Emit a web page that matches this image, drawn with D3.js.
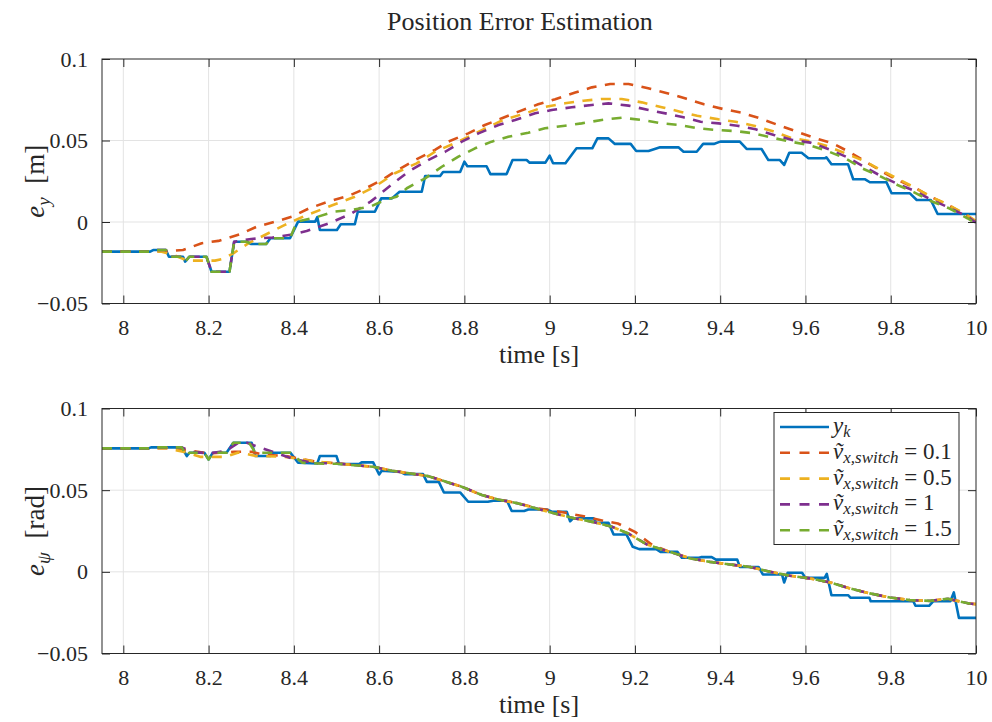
<!DOCTYPE html>
<html>
<head>
<meta charset="utf-8">
<script src="https://cdn.jsdelivr.net/npm/d3@7/dist/d3.min.js"></script>
<style>
  body { margin: 0; background: #fff; }
  svg text { font-family: "Liberation Serif", "DejaVu Serif", serif; fill: #262626; }
</style>
</head>
<body>
<div id="viz"></div>
<script>
// Position error estimation - two stacked MATLAB-style panels

const width = 992;
const height = 722;
const serif = '"Liberation Serif", "DejaVu Serif", serif';

const xTicks = [8, 8.2, 8.4, 8.6, 8.8, 9, 9.2, 9.4, 9.6, 9.8, 10];
const yTicks = [-0.05, 0, 0.05, 0.1];
const seriesNames = ["y_k", "0.1", "0.5", "1", "1.5"];
const seriesColors = ["#0072BD", "#D95319", "#EDB120", "#7E2F8E", "#77AC30"];

// top panel: e_y [m]
const eyMeas = [[7.95,-0.0182],[8.063,-0.0182],[8.07,-0.0172],[8.10,-0.0172],[8.107,-0.0213],[8.14,-0.0213],[8.145,-0.0243],[8.155,-0.0213],[8.195,-0.0213],[8.207,-0.0305],[8.249,-0.0305],[8.26,-0.0121],[8.289,-0.0121],[8.30,-0.0135],[8.335,-0.0135],[8.345,-0.0100],[8.391,-0.0100],[8.41,0.0002],[8.45,0.0002],[8.455,0.003],[8.461,-0.0049],[8.501,-0.0049],[8.51,-0.0014],[8.543,-0.0014],[8.55,0.0063],[8.59,0.0063],[8.605,0.0145],[8.63,0.0145],[8.648,0.0186],[8.70,0.0186],[8.708,0.0282],[8.743,0.0282],[8.75,0.0307],[8.79,0.0307],[8.80,0.037],[8.807,0.0342],[8.852,0.0342],[8.861,0.0294],[8.899,0.0294],[8.913,0.038],[8.946,0.038],[8.953,0.0364],[8.99,0.0364],[9.0,0.0407],[9.008,0.036],[9.037,0.036],[9.063,0.0452],[9.10,0.0452],[9.112,0.0513],[9.138,0.0513],[9.153,0.0479],[9.19,0.0479],[9.203,0.0436],[9.232,0.0436],[9.259,0.0458],[9.302,0.0458],[9.314,0.0431],[9.345,0.0431],[9.36,0.0479],[9.385,0.0479],[9.40,0.0493],[9.446,0.0493],[9.462,0.0448],[9.497,0.0448],[9.513,0.038],[9.54,0.038],[9.55,0.035],[9.562,0.0425],[9.591,0.0425],[9.607,0.0391],[9.645,0.0391],[9.649,0.0397],[9.661,0.0354],[9.70,0.0354],[9.712,0.0262],[9.74,0.0262],[9.751,0.0244],[9.79,0.0244],[9.802,0.0176],[9.845,0.0176],[9.861,0.0135],[9.894,0.0135],[9.91,0.0049],[10,0.0049]];
const eySw01 = [[7.95,-0.0182],[8.08,-0.0182],[8.11,-0.0178],[8.14,-0.0172],[8.184,-0.013],[8.223,-0.0116],[8.274,-0.0075],[8.313,-0.0029],[8.356,0.0002],[8.396,0.0033],[8.436,0.0084],[8.481,0.0125],[8.528,0.016],[8.569,0.0207],[8.607,0.0258],[8.637,0.0309],[8.684,0.038],[8.731,0.0442],[8.762,0.0493],[8.809,0.0544],[8.848,0.0595],[8.888,0.0636],[8.927,0.0677],[8.973,0.0722],[9.013,0.0753],[9.06,0.0794],[9.099,0.0826],[9.142,0.0847],[9.185,0.0847],[9.231,0.082],[9.278,0.0789],[9.321,0.0756],[9.362,0.0722],[9.407,0.0693],[9.45,0.0671],[9.493,0.0636],[9.536,0.0595],[9.58,0.0554],[9.62,0.0517],[9.663,0.0483],[9.702,0.0431],[9.741,0.037],[9.78,0.0309],[9.816,0.0258],[9.859,0.0207],[9.898,0.0149],[9.939,0.0098],[9.98,0.0037],[10,0.0]];
const eySw05 = [[7.95,-0.0182],[8.09,-0.0182],[8.12,-0.0205],[8.15,-0.0237],[8.215,-0.0237],[8.235,-0.0225],[8.258,-0.0192],[8.293,-0.0131],[8.34,-0.0069],[8.379,-0.0018],[8.422,0.0033],[8.481,0.0094],[8.543,0.0155],[8.59,0.0217],[8.637,0.0299],[8.688,0.036],[8.731,0.0431],[8.786,0.0493],[8.841,0.0564],[8.891,0.0626],[8.946,0.0669],[8.985,0.0704],[9.036,0.0728],[9.079,0.0744],[9.122,0.0755],[9.169,0.0755],[9.216,0.0734],[9.263,0.0704],[9.306,0.0677],[9.346,0.0652],[9.396,0.063],[9.436,0.0615],[9.479,0.0591],[9.522,0.0558],[9.565,0.0517],[9.608,0.0497],[9.651,0.0466],[9.694,0.0421],[9.736,0.0376],[9.777,0.0319],[9.814,0.0268],[9.855,0.0213],[9.894,0.0155],[9.933,0.0109],[9.976,0.0047],[10,0.0005]];
const eySw1 = [[7.95,-0.0182],[8.063,-0.0182],[8.07,-0.0172],[8.10,-0.0172],[8.107,-0.0213],[8.195,-0.0213],[8.207,-0.0305],[8.249,-0.0305],[8.26,-0.0121],[8.30,-0.0104],[8.35,-0.0095],[8.40,-0.0075],[8.43,-0.0055],[8.48,-0.001],[8.53,0.0045],[8.58,0.0125],[8.633,0.0237],[8.669,0.0309],[8.715,0.038],[8.755,0.0431],[8.794,0.0493],[8.833,0.0544],[8.88,0.0595],[8.919,0.0626],[8.966,0.0667],[9.005,0.0687],[9.052,0.0704],[9.099,0.0718],[9.138,0.0728],[9.185,0.0714],[9.232,0.0687],[9.278,0.0663],[9.314,0.0642],[9.354,0.0615],[9.397,0.0605],[9.44,0.0591],[9.483,0.0569],[9.526,0.0534],[9.569,0.0503],[9.612,0.0487],[9.655,0.0446],[9.698,0.0397],[9.737,0.034],[9.777,0.0282],[9.816,0.0233],[9.855,0.0192],[9.896,0.0135],[9.937,0.0088],[9.98,0.0033],[10,-0.0005]];
const eySw15 = [[7.95,-0.0182],[8.063,-0.0182],[8.07,-0.0172],[8.10,-0.0172],[8.107,-0.0213],[8.14,-0.0213],[8.145,-0.0243],[8.155,-0.0213],[8.195,-0.0213],[8.207,-0.0305],[8.249,-0.0305],[8.26,-0.0121],[8.289,-0.0121],[8.30,-0.0135],[8.335,-0.0135],[8.345,-0.010],[8.391,-0.010],[8.407,0.0002],[8.457,0.0033],[8.493,0.0063],[8.536,0.0074],[8.579,0.0094],[8.614,0.0135],[8.641,0.0155],[8.665,0.0207],[8.708,0.0268],[8.747,0.0339],[8.786,0.0401],[8.825,0.0452],[8.864,0.0493],[8.903,0.0523],[8.95,0.0548],[8.989,0.0575],[9.036,0.0591],[9.075,0.0605],[9.122,0.0626],[9.169,0.064],[9.216,0.0626],[9.263,0.0605],[9.306,0.0595],[9.346,0.0575],[9.393,0.0564],[9.436,0.0558],[9.479,0.0544],[9.522,0.0517],[9.565,0.0493],[9.608,0.0472],[9.651,0.0436],[9.694,0.039],[9.733,0.0329],[9.777,0.0278],[9.816,0.0227],[9.855,0.0182],[9.894,0.0129],[9.937,0.0084],[9.98,0.0023],[10,-0.001]];

// bottom panel: e_psi [rad]
const epsiMeas = [[7.95,0.0756],[8.059,0.0756],[8.065,0.0762],[8.137,0.0762],[8.149,0.0709],[8.155,0.0729],[8.19,0.0729],[8.2,0.0688],[8.21,0.0729],[8.242,0.0729],[8.258,0.079],[8.301,0.079],[8.31,0.0709],[8.345,0.0709],[8.351,0.0729],[8.392,0.0729],[8.41,0.0668],[8.455,0.0664],[8.461,0.0709],[8.5,0.0709],[8.506,0.066],[8.553,0.066],[8.559,0.067],[8.586,0.067],[8.6,0.0596],[8.606,0.0619],[8.65,0.0612],[8.66,0.0598],[8.703,0.0598],[8.712,0.0551],[8.74,0.0551],[8.752,0.0486],[8.79,0.0486],[8.809,0.0429],[8.855,0.0429],[8.868,0.0435],[8.9,0.0435],[8.911,0.0372],[8.94,0.0372],[8.95,0.0382],[8.993,0.0382],[9.005,0.0368],[9.04,0.0368],[9.048,0.031],[9.055,0.0327],[9.103,0.0327],[9.11,0.03],[9.138,0.03],[9.15,0.0229],[9.18,0.0229],[9.195,0.0153],[9.21,0.0139],[9.25,0.0139],[9.26,0.0122],[9.3,0.0122],[9.31,0.0086],[9.35,0.0086],[9.355,0.009],[9.38,0.009],[9.39,0.0075],[9.44,0.0075],[9.446,0.003],[9.49,0.003],[9.5,-0.0016],[9.545,-0.0016],[9.55,-0.0065],[9.558,-0.0006],[9.592,-0.0006],[9.6,-0.0037],[9.645,-0.0037],[9.65,-0.0012],[9.661,-0.0143],[9.7,-0.0143],[9.706,-0.0159],[9.75,-0.0159],[9.753,-0.018],[9.853,-0.018],[9.858,-0.0208],[9.89,-0.0208],[9.9,-0.018],[9.94,-0.018],[9.948,-0.0126],[9.96,-0.0282],[10,-0.0282]];
const epsiSw01 = [[7.95,0.0756],[8.06,0.0756],[8.1,0.0758],[8.15,0.0745],[8.2,0.0725],[8.26,0.0735],[8.3,0.0735],[8.33,0.0717],[8.38,0.071],[8.45,0.0675],[8.5,0.0664],[8.586,0.0643],[8.63,0.0619],[8.715,0.0586],[8.75,0.0557],[8.795,0.052],[8.841,0.047],[8.879,0.0443],[8.926,0.0419],[8.973,0.0388],[9.03,0.0365],[9.08,0.034],[9.13,0.031],[9.16,0.0296],[9.2,0.0245],[9.24,0.0165],[9.282,0.0122],[9.33,0.0082],[9.376,0.0061],[9.423,0.0045],[9.47,0.003],[9.517,0.0],[9.564,-0.0024],[9.61,-0.004],[9.658,-0.0065],[9.705,-0.0102],[9.751,-0.0132],[9.798,-0.0157],[9.845,-0.0173],[9.892,-0.0178],[9.934,-0.0165],[9.984,-0.0194],[10,-0.0198]];
const epsiSw05 = [[7.95,0.0756],[8.06,0.0756],[8.1,0.0758],[8.15,0.073],[8.18,0.0704],[8.24,0.0704],[8.27,0.0731],[8.31,0.071],[8.38,0.0704],[8.45,0.0675],[8.5,0.0664],[8.586,0.0643],[8.63,0.0619],[8.715,0.0586],[8.75,0.0557],[8.795,0.052],[8.841,0.047],[8.879,0.0443],[8.926,0.0419],[8.973,0.0385],[9.01,0.0358],[9.06,0.0327],[9.1,0.0306],[9.146,0.0276],[9.184,0.0235],[9.23,0.0165],[9.282,0.0122],[9.33,0.0082],[9.376,0.0061],[9.423,0.0045],[9.47,0.003],[9.517,0.0],[9.564,-0.0024],[9.61,-0.004],[9.658,-0.0065],[9.705,-0.0102],[9.751,-0.0132],[9.798,-0.0157],[9.845,-0.0173],[9.892,-0.0178],[9.934,-0.0165],[9.984,-0.0194],[10,-0.0198]];
const epsiSw1 = [[7.95,0.0756],[8.06,0.0756],[8.065,0.0762],[8.137,0.0762],[8.16,0.0735],[8.2,0.0725],[8.24,0.074],[8.27,0.079],[8.29,0.079],[8.31,0.077],[8.35,0.0735],[8.4,0.069],[8.45,0.0665],[8.5,0.0664],[8.586,0.0643],[8.63,0.0619],[8.715,0.0586],[8.75,0.0557],[8.795,0.052],[8.841,0.047],[8.879,0.0443],[8.926,0.0419],[8.973,0.0385],[9.01,0.0358],[9.06,0.0327],[9.1,0.0306],[9.146,0.0276],[9.184,0.0235],[9.23,0.0165],[9.282,0.0122],[9.33,0.0082],[9.376,0.0061],[9.423,0.0045],[9.47,0.003],[9.517,0.0],[9.564,-0.0024],[9.61,-0.004],[9.658,-0.0065],[9.705,-0.0102],[9.751,-0.0132],[9.798,-0.0157],[9.845,-0.0173],[9.892,-0.0178],[9.934,-0.0165],[9.984,-0.0194],[10,-0.0198]];
const epsiSw15 = [[7.95,0.0756],[8.059,0.0756],[8.065,0.0762],[8.137,0.0762],[8.149,0.0709],[8.155,0.0729],[8.19,0.0729],[8.2,0.0688],[8.21,0.0729],[8.242,0.0729],[8.258,0.079],[8.295,0.079],[8.31,0.0729],[8.392,0.0729],[8.42,0.0668],[8.47,0.0662],[8.5,0.0662],[8.586,0.0643],[8.63,0.0619],[8.715,0.0586],[8.75,0.0557],[8.795,0.052],[8.841,0.047],[8.879,0.0443],[8.926,0.0419],[8.973,0.0385],[9.01,0.0358],[9.06,0.0327],[9.1,0.0306],[9.146,0.0276],[9.184,0.0235],[9.23,0.0165],[9.282,0.0122],[9.33,0.0082],[9.376,0.0061],[9.423,0.0045],[9.47,0.003],[9.517,0.0],[9.564,-0.0024],[9.61,-0.004],[9.658,-0.0065],[9.705,-0.0102],[9.751,-0.0132],[9.798,-0.0157],[9.845,-0.0173],[9.892,-0.0178],[9.934,-0.0165],[9.984,-0.0194],[10,-0.0198]];

const svg = d3.select("#viz")
    .append("svg")
    .attr("width", width)
    .attr("height", height)
    .attr("font-family", serif);

svg.append("rect").attr("width", width).attr("height", height).attr("fill", "#fff");

svg.append("text")
    .attr("x", 520)
    .attr("y", 30)
    .attr("text-anchor", "middle")
    .style("font-size", "26px")
    .text("Position Error Estimation");

const x = d3.scaleLinear().domain([7.95, 10]).range([102, 976]);

const fmtTick = d => d < 0 ? "\u2212" + Math.abs(d) : String(d);

function drawPanel(id, top, bottom, series, labelSub, labelUnit) {
    const y = d3.scaleLinear().domain([-0.05, 0.1]).range([bottom, top]);
    const g = svg.append("g").attr("class", "panel-" + id);

    // grid
    g.append("g").selectAll("line")
        .data(xTicks.filter(d => d > 7.95 && d < 10))
        .enter().append("line")
        .attr("x1", d => x(d)).attr("x2", d => x(d))
        .attr("y1", top).attr("y2", bottom)
        .attr("stroke", "#e3e3e3").attr("stroke-width", 1);
    g.append("g").selectAll("line")
        .data(yTicks.filter(d => d > -0.05 && d < 0.1))
        .enter().append("line")
        .attr("x1", x.range()[0]).attr("x2", x.range()[1])
        .attr("y1", d => y(d)).attr("y2", d => y(d))
        .attr("stroke", "#e3e3e3").attr("stroke-width", 1);

    // curves
    g.append("clipPath").attr("id", "clip-" + id)
        .append("rect")
        .attr("x", x.range()[0]).attr("y", top)
        .attr("width", x.range()[1] - x.range()[0]).attr("height", bottom - top);

    const line = d3.line().x(d => x(d[0])).y(d => y(d[1]));
    g.append("g").attr("clip-path", `url(#clip-${id})`)
        .selectAll("path")
        .data(series)
        .enter().append("path")
        .attr("d", d => line(d))
        .attr("fill", "none")
        .attr("stroke", (d, i) => seriesColors[i])
        .attr("stroke-width", 2.6)
        .attr("stroke-linejoin", "round")
        .attr("stroke-dasharray", (d, i) => i === 0 ? null : "10,8.5");

    // axes with inward ticks on all sides
    const axB = g.append("g").attr("transform", `translate(0,${bottom})`)
        .call(d3.axisBottom(x).tickValues(xTicks).tickSize(-8).tickPadding(16).tickFormat(fmtTick));
    const axT = g.append("g").attr("transform", `translate(0,${top})`)
        .call(d3.axisTop(x).tickValues(xTicks).tickSize(-8).tickFormat(""));
    const axL = g.append("g").attr("transform", `translate(${x.range()[0]},0)`)
        .call(d3.axisLeft(y).tickValues(yTicks).tickSize(-8).tickPadding(14).tickFormat(fmtTick));
    const axR = g.append("g").attr("transform", `translate(${x.range()[1]},0)`)
        .call(d3.axisRight(y).tickValues(yTicks).tickSize(-8).tickFormat(""));
    [axB, axT, axL, axR].forEach(a => {
        a.attr("font-family", serif);
        a.select(".domain").remove();
        a.selectAll(".tick line").attr("stroke", "#262626").attr("stroke-width", 1);
        a.selectAll(".tick text")
            .style("font-family", serif)
            .style("font-size", "22px")
            .attr("fill", "#262626");
    });

    g.append("rect")
        .attr("x", x.range()[0]).attr("y", top)
        .attr("width", x.range()[1] - x.range()[0]).attr("height", bottom - top)
        .attr("fill", "none").attr("stroke", "#262626").attr("stroke-width", 1);

    g.append("text")
        .attr("x", (x.range()[0] + x.range()[1]) / 2)
        .attr("y", bottom + 59)
        .attr("text-anchor", "middle")
        .style("font-size", "26px")
        .text("time [s]");

    const yl = g.append("text")
        .attr("transform", `translate(44,${(top + bottom) / 2}) rotate(-90)`)
        .attr("text-anchor", "middle")
        .style("font-size", "27px");
    yl.append("tspan").style("font-style", "italic").text("e");
    yl.append("tspan").style("font-style", "italic").style("font-size", "19px")
        .attr("dy", 6).text(labelSub);
    yl.append("tspan").attr("dy", -6).text("\u2002[" + labelUnit + "]");

    return { g, y };
}

drawPanel("top", 59, 303.5, [eyMeas, eySw01, eySw05, eySw1, eySw15], "y", "m");
const bot = drawPanel("bot", 408.5, 653.5, [epsiMeas, epsiSw01, epsiSw05, epsiSw1, epsiSw15], "\u03c8", "rad");

// legend
const legend = bot.g.append("g").attr("class", "legend");
legend.append("rect")
    .attr("x", 774).attr("y", 412.5)
    .attr("width", 185).attr("height", 132)
    .attr("fill", "#fff").attr("stroke", "#262626").attr("stroke-width", 1);

const rows = legend.selectAll("g.row")
    .data(seriesNames)
    .enter().append("g")
    .attr("class", "row")
    .attr("transform", (d, i) => `translate(0,${427 + i * 25.8})`);

rows.append("line")
    .attr("x1", 780).attr("x2", 829)
    .attr("stroke", (d, i) => seriesColors[i])
    .attr("stroke-width", 2.6)
    .attr("stroke-dasharray", (d, i) => i === 0 ? null : "10,9.5");

rows.each(function(d, i) {
    const t = d3.select(this).append("text")
        .attr("x", 833).attr("y", 6)
        .style("font-size", "23px");
    if (i === 0) {
        t.append("tspan").style("font-style", "italic").text("y");
        t.append("tspan").style("font-style", "italic").style("font-size", "16px").attr("dy", 4).text("k");
    } else {
        t.append("tspan").style("font-style", "italic").text("\u1e7d");
        t.append("tspan").style("font-style", "italic").style("font-size", "17px").attr("dy", 4).text("x,switch");
        t.append("tspan").attr("dy", -4).text(" = " + d);
    }
});
</script>
</body>
</html>
